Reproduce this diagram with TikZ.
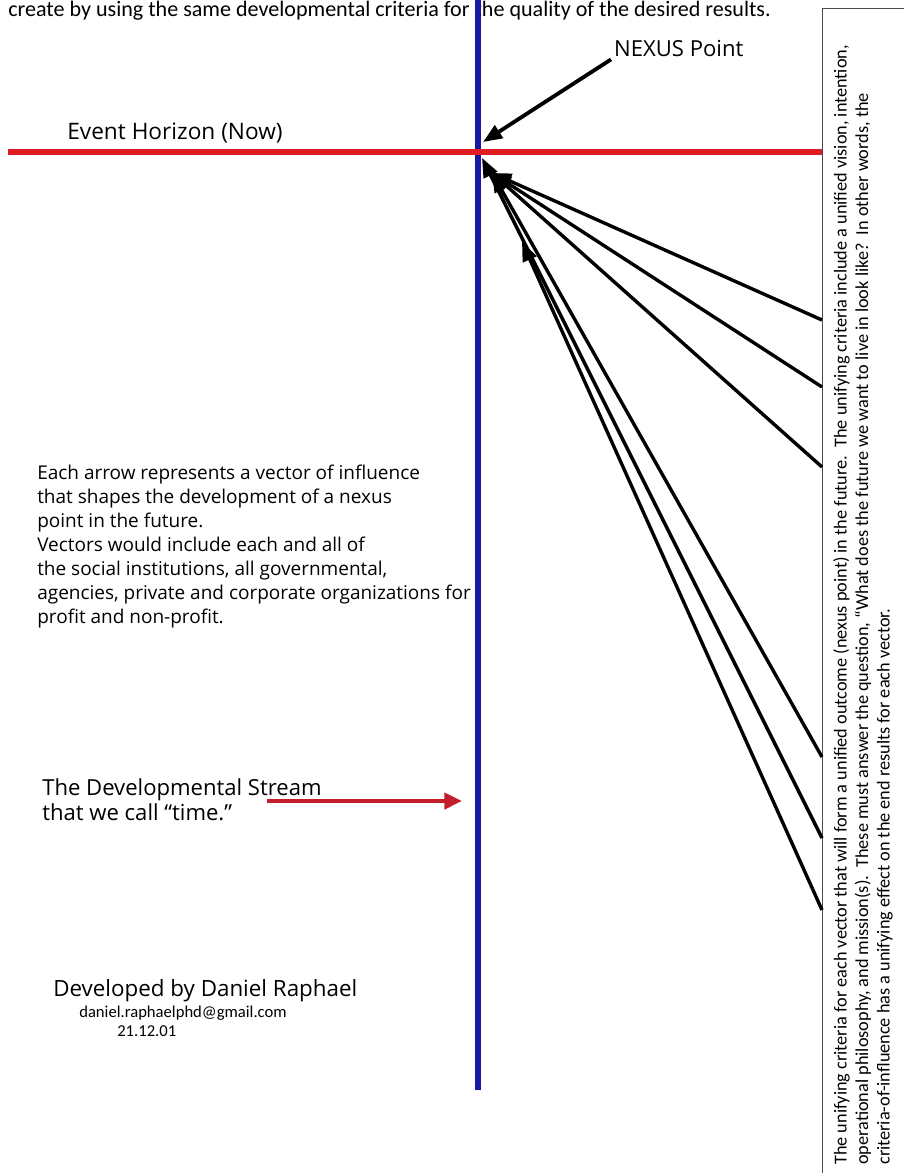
\documentclass[tikz,border=0pt]{standalone}
\usepackage{fontspec}
\setmainfont{Open Sans}
\newfontfamily\carlito{Carlito}
\usepackage{tikz}
\usetikzlibrary{calc}
\usetikzlibrary{arrows.meta}

\definecolor{azulnexo}{RGB}{24,24,160}
\definecolor{rojohorizonte}{RGB}{226,28,36}
\definecolor{rojoflujo}{RGB}{196,30,42}

\begin{document}
\begin{tikzpicture}[x=0.02388cm, y=-0.02388cm,
  vector/.style={line width=2.3pt, -{Triangle[length=13pt,width=10pt]}},
  texto/.style={inner sep=0pt, anchor=north west, align=left}]
  \useasboundingbox (0,0) rectangle (904,1173);
  \clip (0,0) rectangle (904,1173);
  \node [inner sep=0pt, anchor=base west, font=\carlito\fontsize{15}{18}\selectfont] (arriba) at (8,16) {create by using the same developmental criteria for the quality of the desired results.}; % texto de arriba
  \draw [gray!60!black, line width=0.6pt] (822,8) rectangle (920,1190); % recuadro
  \node [texto, rotate=90, font=\carlito\fontsize{12.4}{14.6}\selectfont] (criterio) at (833,1165) {The unifying criteria for each vector that will form a unified outcome (nexus point) in the future.\ \ The unifying criteria include a unified vision, intention,\\ operational philosophy, and mission(s).\ \ These must answer the question, “What does the future we want to live in look like?\ \ In other words, the\\ criteria-of-influence has a unifying effect on the end results for each vector.};
  \draw [azulnexo, line width=4pt] (478,0) -- (478,1090); % linea del tiempo
  \draw [rojohorizonte, line width=4.7pt] (8,152) -- (822,152); % horizonte
  \node [inner sep=0pt, anchor=base west, font=\fontsize{15.4}{18}\selectfont] (horizonte) at (67,139) {Event Horizon (Now)};
  \node [inner sep=2pt, anchor=base west, font=\fontsize{15}{18}\selectfont] (nexus) at (611,56) {NEXUS Point};
  \coordinate (np) at (483,142); % punto nexo
  \draw [vector, line width=2.6pt] (nexus.south west) -- (np);
  % vectores de influencia
  \coordinate (c1) at (492,173);
  \coordinate (c2) at (482,158);
  \coordinate (c3) at (522,242);
  \coordinate (v1) at (822,320);
  \coordinate (v2) at (822,387);
  \coordinate (v3) at (822,467);
  \coordinate (v4) at (822,757);
  \coordinate (v5) at (822,838);
  \coordinate (v6) at (822,910);
  \draw [vector] (v1) -- (c1);
  \draw [vector] (v2) -- (c1);
  \draw [vector] (v3) -- (c1);
  \draw [vector] (v4) -- (c1);
  \draw [vector] (v5) -- (c2);
  \draw [vector] (v6) -- (c3);
  \node [texto, font=\fontsize{12.9}{16.25}\selectfont] (vectores) at (37,465) {Each arrow represents a vector of influence\\ that shapes the development of a nexus\\ point in the future.\\ Vectors would include each and all of\\ the social institutions, all governmental,\\ agencies, private and corporate organizations for\\ profit and non-profit.};
  \node [texto, font=\fontsize{15}{17}\selectfont] (flujo) at (42,778) {The Developmental Stream\\ that we call “time.”};
  \coordinate (f0) at (267,801);
  \coordinate (f1) at (462,801);
  \draw [rojoflujo, line width=2.7pt, -{Triangle[length=12pt,width=11pt]}] (f0) -- (f1); % flecha del tiempo
  \node [inner sep=0pt, anchor=base west, font=\fontsize{15.2}{18}\selectfont] (autor) at (53,996) {Developed by Daniel Raphael};
  \node [inner sep=0pt, anchor=base west, font=\carlito\fontsize{11.3}{13}\selectfont] (correo) at (79,1017) {daniel.raphaelphd@gmail.com};
  \node [inner sep=0pt, anchor=base west, font=\carlito\fontsize{11.3}{13}\selectfont] (fecha) at (117,1036) {21.12.01};
\end{tikzpicture}
\end{document}
